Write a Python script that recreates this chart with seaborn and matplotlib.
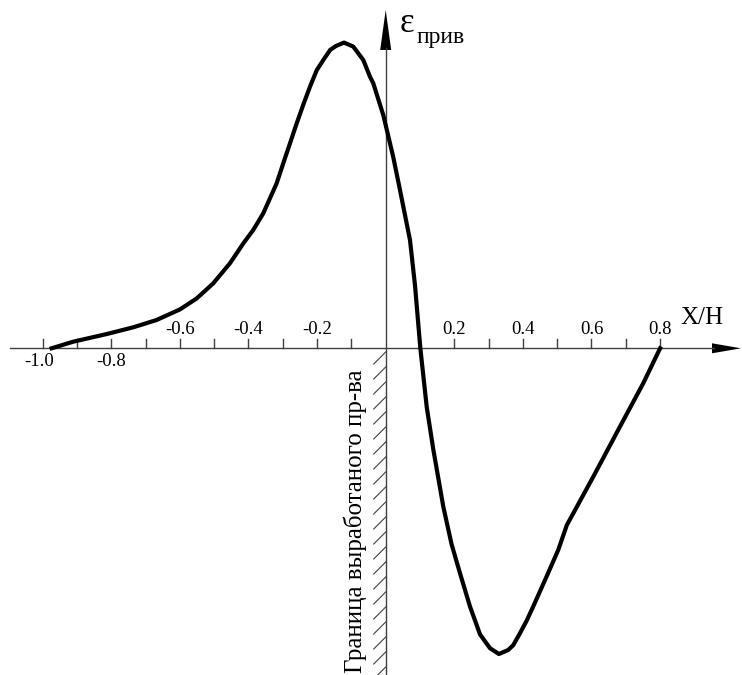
import numpy as np
import pandas as pd
import matplotlib
matplotlib.use("Agg")
import matplotlib.pyplot as plt
import seaborn as sns
from matplotlib.patches import Polygon

# ---- data ----
x_rel = [-0.974, -0.911, -0.813, -0.736, -0.668, -0.600, -0.551, -0.503, -0.454,
         -0.415, -0.386, -0.357, -0.318, -0.2985, -0.279, -0.2595, -0.240, -0.2207,
         -0.201, -0.182, -0.162, -0.145, -0.1216, -0.0945, -0.0653, -0.046, -0.0362,
         -0.007, 0.0125, 0.022, 0.0417, 0.0708, 0.0854, 0.101, 0.1195, 0.139,
         0.168, 0.192, 0.2166, 0.2458, 0.275, 0.304, 0.330, 0.357, 0.372,
         0.3915, 0.411, 0.430, 0.469, 0.503, 0.528, 0.605, 0.683, 0.751, 0.800]
eps = [0.0, 0.0216, 0.0467, 0.0686, 0.0925, 0.127, 0.163, 0.212, 0.278,
       0.343, 0.387, 0.441, 0.539, 0.605, 0.670, 0.735, 0.797, 0.855,
       0.909, 0.942, 0.975, 0.988, 0.999, 0.986, 0.942, 0.888, 0.866,
       0.762, 0.670, 0.625, 0.517, 0.354, 0.206, 0.0, -0.191, -0.332,
       -0.518, -0.640, -0.735, -0.844, -0.935, -0.980, -0.999, -0.986, -0.970,
       -0.931, -0.890, -0.844, -0.746, -0.659, -0.578, -0.420, -0.256, -0.114, 0.0]
tick_values = [-1.0, -0.9, -0.8, -0.7, -0.6, -0.5, -0.4, -0.3, -0.2, -0.1,
               0.1, 0.2, 0.3, 0.4, 0.5, 0.6, 0.7, 0.8]
labels_below = ["-1.0", "-0.8"]
labels_above = ["-0.6", "-0.4", "-0.2", "0.2", "0.4", "0.6", "0.8"]
x_label = "X/H"
y_label_main = "ε"
y_label_sub = "прив"
boundary_label = "Граница выработаного пр-ва"

df = pd.DataFrame({"x": x_rel, "eps": eps})

# ---- figure ----
W, H = 742, 675
SX, SY = 343.0, 306.0          # pixels per unit
X0, Y0 = 385.7, 348.3          # pixel position of origin

fig = plt.figure(figsize=(W / 100, H / 100), dpi=100)
ax = fig.add_axes([0, 0, 1, 1])

def dx(px):
    return px / SX

def dy(px):
    return px / SY

axis_col = "#404040"
serif = ["Liberation Serif", "DejaVu Serif"]

XL, XR = -X0 / SX, (W - X0) / SX
YB, YT = -(H - Y0) / SY, Y0 / SY

# horizontal axis with arrow
ax.plot([XL + dx(10), XR - dx(28)], [0, 0], color=axis_col, lw=1.0)
ax.add_patch(Polygon([[XR - dx(30), dy(5)], [XR - dx(1), 0], [XR - dx(30), -dy(5)]],
                     closed=True, color="black", lw=0))
# vertical axis with arrow
ax.plot([0, 0], [YB, YT - dy(48)], color=axis_col, lw=1.0)
ax.add_patch(Polygon([[-dx(5.5), YT - dy(50)], [0, YT - dy(10)], [dx(5.5), YT - dy(50)]],
                     closed=True, color="black", lw=0))

# ticks
for t in tick_values:
    ax.plot([t, t], [0, dy(9)], color=axis_col, lw=1.0)

# tick labels
fs = 13.5
for lab in labels_below:
    v = float(lab)
    xpos = -1.01 if v == -1.0 else v
    ax.text(xpos, -dy(13), lab, ha="center", va="center", fontsize=fs, family=serif)
for lab in labels_above:
    v = float(lab)
    ax.text(v, dy(19), lab, ha="center", va="center", fontsize=fs, family=serif)

ax.text(dx(702.5 - X0), dy(Y0 - 318), x_label, ha="center", va="center",
        fontsize=18, family=serif)
ax.text(dx(406.5 - X0), dy(Y0 - 23), y_label_main, ha="center", va="center",
        fontsize=25, family=serif)
ax.text(dx(417 - X0), dy(Y0 - 37), y_label_sub, ha="left", va="center",
        fontsize=17, family=serif)

# hatching for boundary
for py in np.arange(352, H + 15, 15):
    ax.plot([0, -dx(12)], [dy(Y0 - py), dy(Y0 - py - 12)], color=axis_col, lw=0.8)

ax.text(-dx(30.5), dy(Y0 - 673), boundary_label, rotation=90, ha="center", va="bottom",
        fontsize=18, family=serif)

# curve
sns.lineplot(data=df, x="x", y="eps", ax=ax, color="black", lw=3.0,
             estimator=None, sort=False, legend=False)
ax.axis("off")
ax.set_xlim(XL, XR)
ax.set_ylim(YB, YT)

fig.savefig("out.png", dpi=100)
